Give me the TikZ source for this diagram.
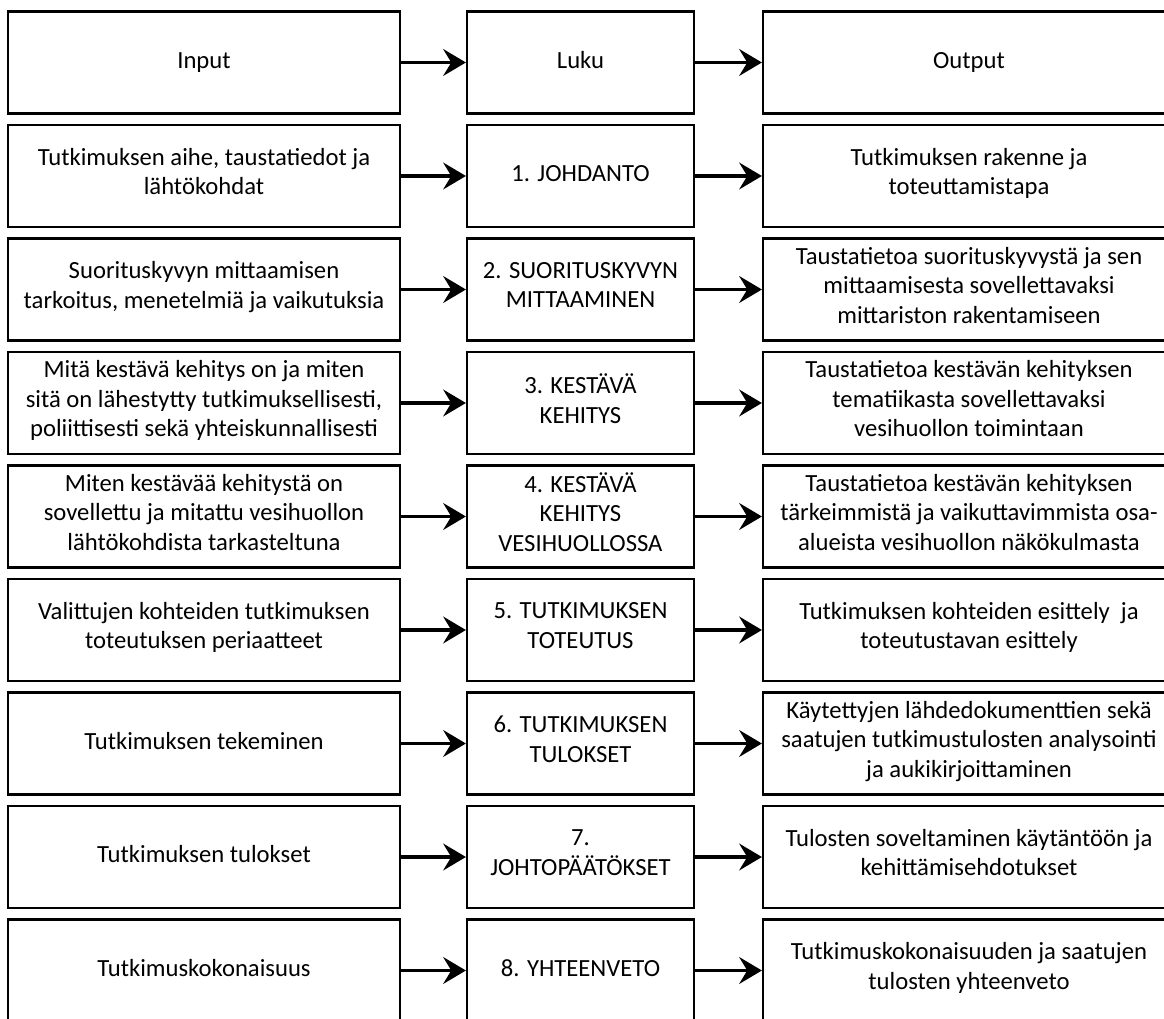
\documentclass[tikz,border=0pt]{standalone}
\usepackage{fontspec}
\setmainfont{Carlito}
\usepackage{tikz}
\usetikzlibrary{arrows.meta}
\tikzstyle{box} = [rectangle, draw, line width=1.6pt, align=center, inner sep=3pt, minimum height=76.5pt, font=\fontsize{18.5}{22.2}\selectfont, execute at begin node=\strut, execute at end node=\strut]
\tikzstyle{inbox} = [box, minimum width=294pt]
\tikzstyle{lukubox} = [box, minimum width=170.25pt]
\tikzstyle{outbox} = [box, minimum width=309pt]
\tikzstyle{arrow} = [line width=2.8pt, -{Stealth[length=17pt,width=20pt,inset=6pt]}]

\begin{document}
\begin{tikzpicture}[x=0.75pt, y=-0.75pt]
				\useasboundingbox (0,0) rectangle (1164,1019);
				\clip (0,0) rectangle (1164,1019);
				% input column
				\node[inbox] (in0) at (204,62.5) {Input};
				\node[inbox] (in1) at (204,176) {Tutkimuksen aihe, taustatiedot ja\\lähtökohdat};
				\node[inbox] (in2) at (204,289.5) {Suorituskyvyn mittaamisen\\tarkoitus, menetelmiä ja vaikutuksia};
				\node[inbox] (in3) at (204,403) {Mitä kestävä kehitys on ja miten\\sitä on lähestytty tutkimuksellisesti,\\poliittisesti sekä yhteiskunnallisesti};
				\node[inbox] (in4) at (204,516.5) {Miten kestävää kehitystä on\\sovellettu ja mitattu vesihuollon\\lähtökohdista tarkasteltuna};
				\node[inbox] (in5) at (204,630) {Valittujen kohteiden tutkimuksen\\toteutuksen periaatteet};
				\node[inbox] (in6) at (204,743.5) {Tutkimuksen tekeminen};
				\node[inbox] (in7) at (204,857) {Tutkimuksen tulokset};
				\node[inbox] (in8) at (204,970.5) {Tutkimuskokonaisuus};
				% chapters
				\node[lukubox] (luku0) at (580.5,62.5) {Luku};
				\node[lukubox] (luku1) at (580.5,176) {1. JOHDANTO};
				\node[lukubox] (luku2) at (580.5,289.5) {2. SUORITUSKYVYN\\MITTAAMINEN};
				\node[lukubox] (luku3) at (580.5,403) {3. KESTÄVÄ\\KEHITYS};
				\node[lukubox] (luku4) at (580.5,516.5) {4. KESTÄVÄ\\KEHITYS\\VESIHUOLLOSSA};
				\node[lukubox] (luku5) at (580.5,630) {5. TUTKIMUKSEN\\TOTEUTUS};
				\node[lukubox] (luku6) at (580.5,743.5) {6. TUTKIMUKSEN\\TULOKSET};
				\node[lukubox] (luku7) at (580.5,857) {7.\\JOHTOPÄÄTÖKSET};
				\node[lukubox] (luku8) at (580.5,970.5) {8. YHTEENVETO};
				% output column
				\node[outbox] (out0) at (969,62.5) {Output};
				\node[outbox] (out1) at (969,176) {Tutkimuksen rakenne ja\\toteuttamistapa};
				\node[outbox] (out2) at (969,289.5) {Taustatietoa suorituskyvystä ja sen\\mittaamisesta sovellettavaksi\\mittariston rakentamiseen};
				\node[outbox] (out3) at (969,403) {Taustatietoa kestävän kehityksen\\tematiikasta sovellettavaksi\\vesihuollon toimintaan};
				\node[outbox] (out4) at (969,516.5) {Taustatietoa kestävän kehityksen\\tärkeimmistä ja vaikuttavimmista osa-\\alueista vesihuollon näkökulmasta};
				\node[outbox] (out5) at (969,630) {Tutkimuksen kohteiden esittely~ ja\\toteutustavan esittely};
				\node[outbox] (out6) at (969,743.5) {Käytettyjen lähdedokumenttien sekä\\saatujen tutkimustulosten analysointi\\ja aukikirjoittaminen};
				\node[outbox] (out7) at (969,857) {Tulosten soveltaminen käytäntöön ja\\kehittämisehdotukset};
				\node[outbox] (out8) at (969,970.5) {Tutkimuskokonaisuuden ja saatujen\\tulosten yhteenveto};
				% arrows
				\foreach \i in {0,...,8}{
					\draw[arrow] (in\i) -- (luku\i);
					\draw[arrow] (luku\i) -- (out\i);
				}
			\end{tikzpicture}
\end{document}
